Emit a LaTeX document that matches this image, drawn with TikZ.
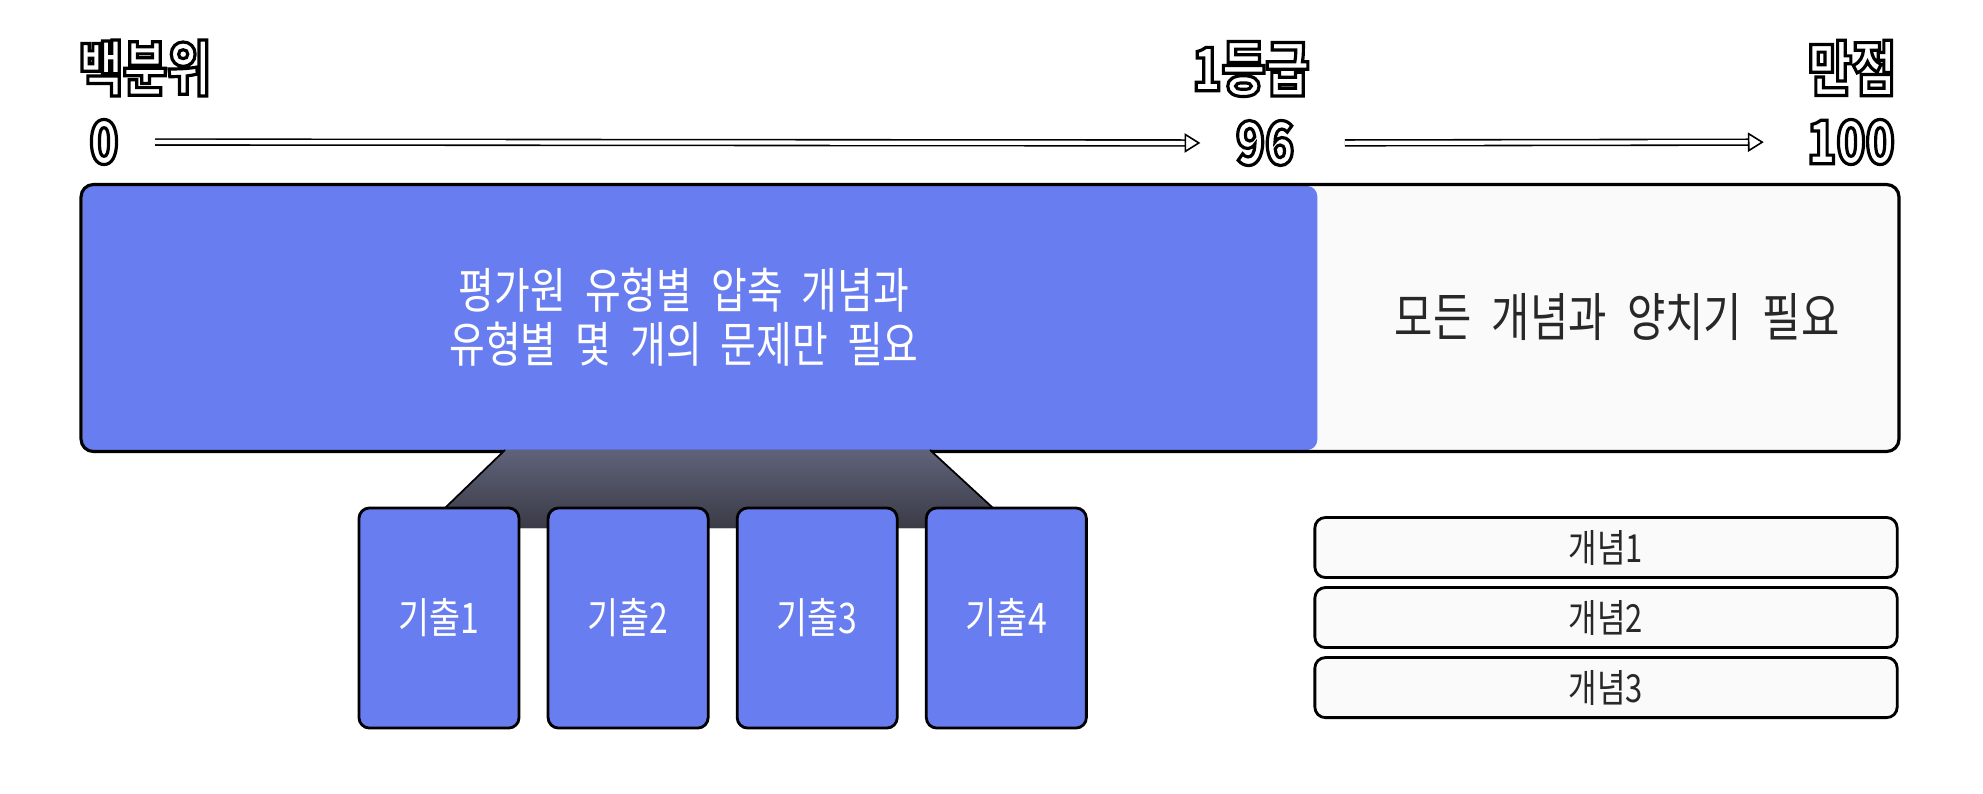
\documentclass[tikz,border=0pt]{standalone}
\usepackage{fontspec}
\setmainfont{Noto Sans CJK KR}[FakeStretch=0.8, WordSpace=2.2]
\usetikzlibrary{arrows.meta}
\definecolor{examblue}{RGB}{104,125,240}
\definecolor{paper}{RGB}{250,250,250}
\definecolor{ink}{RGB}{40,40,40}
\definecolor{funneltop}{RGB}{95,99,122}
\definecolor{funnelbot}{RGB}{58,59,70}
\newcommand\outlinetext[1]{{\color{white}\special{pdf:literal direct 0 G 2 Tr 0.9 w}#1\special{pdf:literal direct 0 Tr}}}

\begin{document}
\begin{tikzpicture}[x=0.01cm,y=-0.01cm,>=Stealth,node distance=1.89cm,thick,
  title/.style={font=\bfseries\fontsize{17}{19}\selectfont,inner sep=0pt},
  card/.style={rectangle,rounded corners=3pt,draw=black,line width=0.8pt,fill=examblue,text=white,minimum width=1.6cm,minimum height=2.2cm,font=\fontsize{12}{14}\selectfont},
  concept/.style={rectangle,rounded corners=3pt,draw=black,line width=0.8pt,fill=paper,text=ink,minimum width=5.82cm,minimum height=0.6cm,font=\fontsize{11}{13}\selectfont},
  hollow/.style={double=white,double distance=1.2pt,line width=0.45pt,-{Triangle[open,length=4.5pt,width=5.5pt]}}]

            \useasboundingbox (0,0) rectangle (1983,793);

            % scale labels
            \node[title] (pct) at (145,68) {\outlinetext{백분위}};
            \node[title] (first) at (1251,69) {\outlinetext{1등급}};
            \node[title] (full) at (1852,68) {\outlinetext{만점}};
            \node[title] (p0) at (104,142) {\outlinetext{0}};
            \node[title] (p96) at (1265,143) {\outlinetext{96}};
            \node[title] (p100) at (1851,142) {\outlinetext{100}};

            \draw[hollow,shorten <=10pt,shorten >=9.7pt] (p0) -- (p96);
            \draw[hollow,shorten <=14pt,shorten >=12pt] (p96) -- (p100);

            % the bar
            \node[rectangle,rounded corners=3.5pt,fill=paper,minimum width=18.14cm,minimum height=2.64cm] (bar) at (990,318) {};
            \node[rectangle,rounded corners=3pt,fill=examblue,minimum width=12.34cm,minimum height=2.64cm] (exam) at (700,318) {};
            \draw[line width=0.9pt,rounded corners=3.5pt] (bar.north west) rectangle (bar.south east);
            \node[text=white,align=center,font=\fontsize{13.8}{15.2}\selectfont] (examtext) at (684,317) {평가원 유형별 압축 개념과\\유형별 몇 개의 문제만 필요};
            \node[text=ink,font=\fontsize{14.8}{16}\selectfont] (rest) at (1617,317) {모든 개념과 양치기 필요};

            % funnel to the past papers
            \fill[top color=funneltop,bottom color=funnelbot] (505,450) -- (930,450) -- (993,508) -- (993,528) -- (445,528) -- (445,508) -- cycle;
            \draw[line width=0.5pt] (505,450) -- (445,508);
            \draw[line width=0.5pt] (930,450) -- (993,508);

            \node[card] (q1) at (439,618) {기출1};
            \node[card] (q2) [right of = q1] {기출2};
            \node[card] (q3) [right of = q2] {기출3};
            \node[card] (q4) [right of = q3] {기출4};

            \node[concept] (c1) at (1606,547.5) {개념1};
            \node[concept] (c2) [below of = c1, node distance=0.7cm] {개념2};
            \node[concept] (c3) [below of = c2, node distance=0.7cm] {개념3};

            ;
        \end{tikzpicture}
\end{document}
